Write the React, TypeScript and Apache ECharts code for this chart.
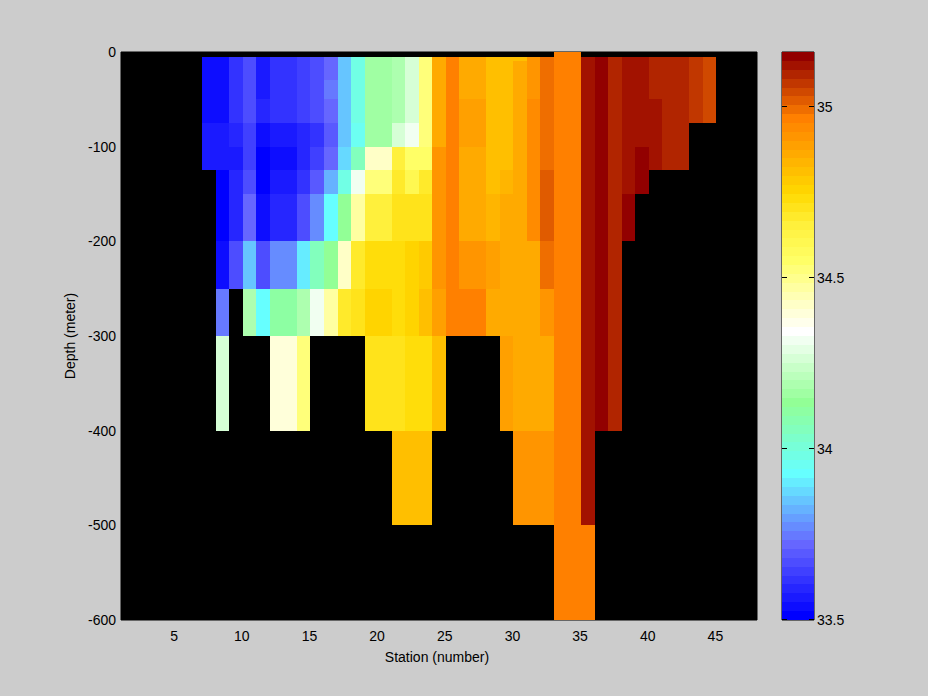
import React, { useEffect, useRef } from "react";
import * as echarts from "echarts";

const _ = null;
// Bottom edge of each depth band lies at depthEdges[i + 1]
const depthEdges = [0, -5, -10, -30, -50, -75, -100, -125, -150, -200, -250, -300, -400, -500, -600];
const stations = [7, 8, 9, 10, 11, 12, 13, 14, 15, 16, 17, 18, 19, 20, 21, 22, 23, 24, 25, 26, 27, 28, 29, 30, 31, 32, 33, 34, 35, 36, 37, 38, 39, 40, 41, 42, 43, 44];
const salinity: (number | null)[][] = [
  [_, 33.54, 33.54, 33.54, 33.54, 33.57, 33.57, _, _, _, _, _, _, _],
  [_, 33.54, 33.54, 33.54, 33.54, 33.57, 33.57, 33.51, 33.51, 33.54, 33.75, 34.27, _, _],
  [_, 33.62, 33.62, 33.62, 33.62, 33.59, 33.57, 33.59, 33.59, 33.67, _, _, _, _],
  [_, 33.67, 33.67, 33.67, 33.67, 33.64, 33.64, 33.67, 33.72, 33.85, 34.19, _, _, _],
  [_, 33.57, 33.57, 33.57, 33.59, 33.54, 33.51, 33.51, 33.54, 33.67, 33.93, _, _, _],
  [_, 33.62, 33.62, 33.62, 33.62, 33.57, 33.54, 33.57, 33.59, 33.77, 34.11, 34.40, _, _],
  [_, 33.62, 33.62, 33.62, 33.62, 33.57, 33.54, 33.57, 33.59, 33.77, 34.11, 34.40, _, _],
  [_, 33.64, 33.64, 33.64, 33.64, 33.59, 33.59, 33.62, 33.67, 33.90, 34.19, 34.53, _, _],
  [_, 33.67, 33.67, 33.67, 33.67, 33.62, 33.64, 33.70, 33.77, 34.06, 34.32, _, _, _],
  [_, 33.72, 33.72, 33.75, 33.72, 33.70, 33.72, 33.83, 33.93, 34.14, 34.48, _, _, _],
  [_, 33.85, 33.85, 33.85, 33.85, 33.85, 33.88, 33.98, 34.14, 34.42, 34.68, _, _, _],
  [_, 33.98, 33.98, 33.98, 33.98, 33.96, 34.06, 34.32, 34.48, 34.68, 34.71, _, _, _],
  [_, 34.16, 34.16, 34.16, 34.16, 34.16, 34.42, 34.53, 34.66, 34.74, 34.76, 34.71, _, _],
  [_, 34.16, 34.16, 34.16, 34.16, 34.16, 34.42, 34.53, 34.66, 34.74, 34.76, 34.71, _, _],
  [_, 34.19, 34.19, 34.19, 34.19, 34.27, 34.66, 34.68, 34.71, 34.74, 34.74, 34.71, 34.81, _],
  [_, 34.27, 34.27, 34.27, 34.27, 34.32, 34.55, 34.61, 34.71, 34.76, 34.76, 34.74, 34.81, _],
  [_, 34.53, 34.53, 34.53, 34.53, 34.53, 34.55, 34.68, 34.71, 34.79, 34.81, 34.74, 34.81, _],
  [_, 34.87, 34.87, 34.87, 34.87, 34.87, 34.92, 34.92, 34.92, 34.92, 34.89, 34.81, _, _],
  [_, 34.97, 34.97, 34.97, 34.97, 34.97, 34.97, 34.97, 34.97, 34.97, 34.97, _, _, _],
  [_, 34.87, 34.87, 34.87, 34.89, 34.89, 34.87, 34.87, 34.87, 34.92, 34.97, _, _, _],
  [_, 34.87, 34.87, 34.87, 34.89, 34.89, 34.87, 34.87, 34.87, 34.92, 34.97, _, _, _],
  [_, 34.81, 34.81, 34.81, 34.81, 34.81, 34.81, 34.81, 34.84, 34.89, 34.87, _, _, _],
  [_, 34.81, 34.81, 34.81, 34.81, 34.81, 34.81, 34.84, 34.87, 34.87, 34.87, 34.89, _, _],
  [_, 34.81, 34.87, 34.87, 34.87, 34.87, 34.87, 34.87, 34.87, 34.87, 34.87, 34.87, 34.92, _],
  [_, 34.92, 34.92, 34.92, 34.94, 34.94, 34.94, 34.94, 34.94, 34.87, 34.87, 34.87, 34.92, _],
  [_, 35.00, 35.00, 35.00, 35.00, 35.00, 35.00, 35.02, 35.02, 35.00, 34.92, 34.87, 34.92, _],
  [34.97, 34.97, 34.97, 34.97, 34.97, 34.97, 34.97, 34.97, 34.97, 34.97, 34.97, 34.97, 34.97, 34.97],
  [34.97, 34.97, 34.97, 34.97, 34.97, 34.97, 34.97, 34.97, 34.97, 34.97, 34.97, 34.97, 34.97, 34.97],
  [_, 35.13, 35.13, 35.13, 35.13, 35.13, 35.13, 35.13, 35.13, 35.13, 35.13, 35.13, 35.13, 34.97],
  [_, 35.15, 35.15, 35.15, 35.15, 35.15, 35.15, 35.15, 35.15, 35.15, 35.15, 35.15, _, _],
  [_, 35.10, 35.10, 35.10, 35.10, 35.10, 35.10, 35.10, 35.10, 35.10, 35.10, 35.10, _, _],
  [_, 35.13, 35.13, 35.13, 35.13, 35.13, 35.13, 35.13, 35.15, _, _, _, _, _],
  [_, 35.13, 35.13, 35.13, 35.13, 35.13, 35.15, 35.15, _, _, _, _, _, _],
  [_, 35.10, 35.10, 35.10, 35.13, 35.13, 35.13, _, _, _, _, _, _, _],
  [_, 35.10, 35.10, 35.10, 35.10, 35.10, 35.10, _, _, _, _, _, _, _],
  [_, 35.10, 35.10, 35.10, 35.10, 35.10, 35.10, _, _, _, _, _, _, _],
  [_, 35.07, 35.07, 35.07, 35.07, _, _, _, _, _, _, _, _, _],
  [_, 35.05, 35.05, 35.05, 35.05, _, _, _, _, _, _, _, _, _],
];
const stationTicks = [5, 10, 15, 20, 25, 30, 35, 40, 45];
const colorTicks = [33.5, 34, 34.5, 35];
const colorMin = 33.5;
const colorMax = 35.161;
const colorBands = 64;
const colorStops: [number, number, number, number][] = [
  [0, 0, 0, 255], [8, 102, 102, 255], [12, 102, 178, 255], [16, 102, 255, 255],
  [24, 146, 255, 150], [28, 200, 255, 200], [32, 255, 255, 255], [36, 255, 255, 180],
  [40, 255, 255, 102], [44, 255, 240, 60], [47, 255, 221, 10], [48, 255, 212, 0],
  [56, 255, 128, 0], [63, 146, 0, 0],
];

function bandColor(i: number): string {
  let k = 0;
  while (k < colorStops.length - 2 && colorStops[k + 1][0] < i) k++;
  const a = colorStops[k];
  const b = colorStops[k + 1];
  const t = (i - a[0]) / (b[0] - a[0]);
  const c = [1, 2, 3].map((j) => Math.round(a[j] + (b[j] - a[j]) * t));
  return `rgb(${c[0]},${c[1]},${c[2]})`;
}
const bandWidth = (colorMax - colorMin) / colorBands;
function valueColor(v: number): string {
  const i = Math.max(0, Math.min(colorBands - 1, Math.floor((v - colorMin) / bandWidth)));
  return bandColor(i);
}

const FONT = "'Liberation Sans', Arial, sans-serif";
const TICK_LEN = 5;

function rectItem(params: any, api: any) {
  const p0 = api.coord([api.value(0), api.value(2)]);
  const p1 = api.coord([api.value(1), api.value(3)]);
  const x0 = Math.round(p0[0]);
  const y0 = Math.round(p0[1]);
  const x1 = Math.round(p1[0]);
  const y1 = Math.round(p1[1]);
  return {
    type: "rect",
    shape: { x: x0, y: y0, width: x1 - x0, height: y1 - y0 },
    style: { fill: valueColor(api.value(4)) },
  };
}

function colorTickItem(params: any, api: any) {
  const left = api.coord([0, api.value(0)]);
  const right = api.coord([1, api.value(0)]);
  const y = Math.round(left[1]) - 1;
  const x0 = Math.round(left[0]);
  const x1 = Math.round(right[0]);
  return {
    type: "group",
    children: [
      { type: "rect", shape: { x: x0, y, width: TICK_LEN, height: 1 }, style: { fill: "#000" } },
      { type: "rect", shape: { x: x1 - TICK_LEN, y, width: TICK_LEN, height: 1 }, style: { fill: "#000" } },
    ],
  };
}

export default function App() {
  const ref = useRef<HTMLDivElement>(null);
  useEffect(() => {
    const chart = echarts.init(ref.current!, undefined, { renderer: "svg" });
    const cells: number[][] = [];
    stations.forEach((s, c) => {
      salinity[c].forEach((v, r) => {
        if (v !== null) cells.push([s, s + 1, depthEdges[r], depthEdges[r + 1], v]);
      });
    });
    const bands: number[][] = [];
    for (let i = 0; i < colorBands; i++) {
      const lo = colorMin + i * bandWidth;
      bands.push([0, 1, lo, lo + bandWidth, lo + bandWidth / 2]);
    }
    const labelStyle = { color: "#000", fontFamily: FONT, fontSize: 14 };
    chart.setOption({
      animation: false,
      backgroundColor: "#cccccc",
      textStyle: { fontFamily: FONT },
      grid: [
        { left: 121, top: 52, width: 636, height: 568, show: true, backgroundColor: "#000", borderColor: "#000", borderWidth: 1 },
        { left: 782, top: 52, width: 32, height: 568, show: true, backgroundColor: "#000", borderColor: "#000", borderWidth: 1 },
      ],
      xAxis: [
        {
          gridIndex: 0, type: "value", min: 1, max: 48,
          name: "Station (number)", nameLocation: "middle", nameGap: 30,
          nameTextStyle: { ...labelStyle, padding: [0, 4, 0, 0] },
          axisLine: { show: false }, splitLine: { show: false },
          axisTick: { show: false, customValues: stationTicks },
          axisLabel: { ...labelStyle, margin: 9, padding: [0, 2, 0, 0], customValues: stationTicks },
        },
        {
          gridIndex: 1, type: "value", min: 0, max: 1, show: false,
        },
      ],
      yAxis: [
        {
          gridIndex: 0, type: "value", min: -600, max: 0, interval: 100,
          name: "Depth (meter)", nameLocation: "middle", nameGap: 39, nameRotate: 90,
          nameTextStyle: labelStyle,
          axisLine: { show: false }, splitLine: { show: false }, axisTick: { show: false },
          axisLabel: { ...labelStyle, margin: 5, padding: [3, 0, 0, 0] },
        },
        {
          gridIndex: 1, type: "value", position: "right", min: colorMin, max: colorMax,
          axisLine: { show: false }, splitLine: { show: false },
          axisTick: { show: false, customValues: colorTicks },
          axisLabel: { ...labelStyle, margin: 3, customValues: colorTicks, formatter: (v: number) => String(v) },
        },
      ],
      series: [
        {
          type: "custom", xAxisIndex: 0, yAxisIndex: 0, data: cells, renderItem: rectItem,
          encode: { x: [0, 1], y: [2, 3] }, silent: true,
        },
        {
          type: "custom", xAxisIndex: 1, yAxisIndex: 1, data: bands, renderItem: rectItem,
          encode: { x: [0, 1], y: [2, 3] }, silent: true,
        },
        {
          type: "custom", xAxisIndex: 1, yAxisIndex: 1, data: colorTicks.map((v) => [v]), renderItem: colorTickItem,
          encode: { y: 0 }, silent: true, z: 5,
        },
      ],
    });
    return () => chart.dispose();
  }, []);
  return <div ref={ref} style={{ position: "fixed", left: 0, top: 0, width: 928, height: 696 }} />;
}
